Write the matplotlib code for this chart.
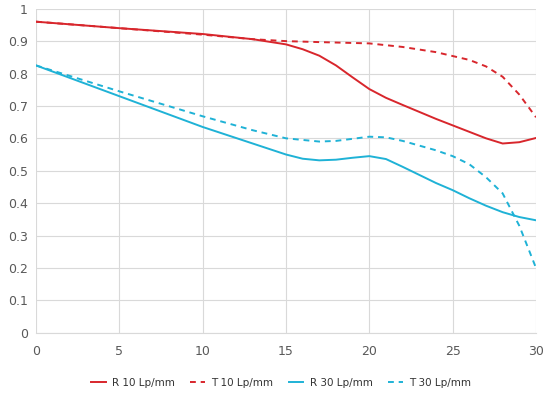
import numpy as np
import matplotlib
matplotlib.use("Agg")
from matplotlib import pyplot as plt

# values
x_r10 = [0, 5, 10, 13, 15, 16, 17, 18, 19, 20, 21, 22, 24, 26, 27, 28, 29, 30]
r10 = [0.96, 0.94, 0.922, 0.906, 0.89, 0.875, 0.855, 0.825, 0.788, 0.752, 0.725, 0.703, 0.66, 0.62, 0.6, 0.584, 0.588, 0.601]

x_t10 = [0, 5, 10, 13, 15, 17, 20, 22, 24, 26, 27, 28, 29, 30]
t10 = [0.96, 0.94, 0.92, 0.906, 0.9, 0.897, 0.893, 0.882, 0.866, 0.842, 0.822, 0.79, 0.735, 0.665]

x_r30 = [0, 5, 10, 15, 16, 17, 18, 19, 20, 21, 22, 24, 25, 26, 27, 28, 29, 30]
r30 = [0.825, 0.73, 0.635, 0.55, 0.537, 0.532, 0.534, 0.54, 0.545, 0.536, 0.512, 0.462, 0.44, 0.415, 0.392, 0.372, 0.357, 0.347]

x_t30 = [0, 5, 10, 13, 15, 17, 18, 20, 21, 22, 24, 25, 26, 27, 28, 29, 30]
t30 = [0.825, 0.745, 0.668, 0.625, 0.6, 0.59, 0.592, 0.605, 0.603, 0.592, 0.563, 0.545, 0.52, 0.48, 0.43, 0.33, 0.2]

labels = ["R 10 Lp/mm", "T 10 Lp/mm", "R 30 Lp/mm", "T 30 Lp/mm"]
red = "#d8262c"
cyan = "#1fb2d6"

fig = plt.figure(figsize=(5.5, 3.97), dpi=100)
ax = fig.add_axes([0.0655, 0.162, 0.909, 0.816])

ax.plot(x_r10, r10, color=red, lw=1.4, label=labels[0])
ax.plot(x_t10, t10, color=red, lw=1.4, ls=(0, (3, 2.5)), label=labels[1])
ax.plot(x_r30, r30, color=cyan, lw=1.4, label=labels[2])
ax.plot(x_t30, t30, color=cyan, lw=1.4, ls=(0, (3, 2.5)), label=labels[3])

ax.set_xlim(0, 30)
ax.set_ylim(0, 1)
ax.set_xticks(np.arange(0, 31, 5))
ax.set_yticks(np.arange(0, 1.01, 0.1))
ax.set_yticklabels(["0", "0.1", "0.2", "0.3", "0.4", "0.5", "0.6", "0.7", "0.8", "0.9", "1"])
ax.grid(True, color="#d9d9d9", lw=0.8)
ax.set_axisbelow(True)
for s in ax.spines.values():
    s.set_visible(False)
ax.spines["bottom"].set_visible(True)
ax.spines["bottom"].set_color("#d9d9d9")
ax.tick_params(axis="x", length=0, labelsize=9, colors="#595959", pad=9)
ax.tick_params(axis="y", length=0, labelsize=9, colors="#595959", pad=6)

leg = ax.legend(loc="upper center", bbox_to_anchor=(0.49, -0.11), ncol=4, frameon=False,
                fontsize=7.5, handlelength=1.4, columnspacing=1.5, handletextpad=0.6)
for t in leg.get_texts():
    t.set_color("#333333")

fig.savefig("out.png", dpi=100)
